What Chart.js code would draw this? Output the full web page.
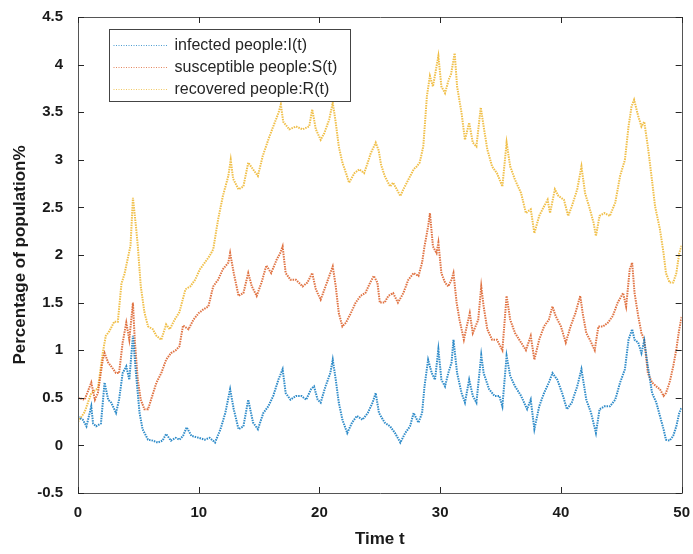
<!DOCTYPE html>
<html>
<head>
<meta charset="utf-8">
<script src="https://cdn.jsdelivr.net/npm/chart.js@4/dist/chart.umd.min.js"></script>
<style>
  body { margin: 0; background: #fff; }
  #wrap { width: 693px; height: 554px; }
</style>
</head>
<body>
<div id="wrap"><canvas id="sirChart" width="693" height="554"></canvas></div>
<script>
// Series: [time, percentage]
const infected = [
  [0,0.30],[0.4,0.27],[0.7,0.20],[1.1,0.41],[1.25,0.23],[1.5,0.20],[1.9,0.23],[2.2,0.66],[2.5,0.48],[2.75,0.45],
  [3.15,0.34],[3.4,0.48],[3.7,0.76],[4.0,0.83],[4.25,0.69],[4.55,1.15],[4.8,0.76],[5.1,0.34],[5.35,0.17],[5.8,0.06],
  [6.2,0.05],[6.6,0.03],[7.0,0.05],[7.3,0.12],[7.7,0.05],[8.1,0.08],[8.4,0.06],[8.7,0.10],[9.0,0.19],[9.4,0.10],
  [10.0,0.08],[10.5,0.06],[10.9,0.08],[11.35,0.03],[11.8,0.17],[12.2,0.34],[12.6,0.59],[12.9,0.38],[13.3,0.17],[13.7,0.20],
  [14.1,0.48],[14.5,0.24],[14.9,0.17],[15.35,0.34],[15.76,0.41],[16.17,0.52],[16.6,0.69],[16.95,0.80],[17.2,0.55],[17.6,0.48],
  [18.05,0.52],[18.5,0.52],[18.9,0.48],[19.3,0.59],[19.55,0.62],[19.85,0.48],[20.1,0.45],[20.5,0.62],[20.9,0.76],[21.1,0.90],
  [21.35,0.69],[21.6,0.45],[21.9,0.27],[22.3,0.13],[22.7,0.24],[23.1,0.31],[23.56,0.27],[24.0,0.34],[24.4,0.45],[24.66,0.55],
  [24.93,0.34],[25.4,0.24],[25.85,0.20],[26.26,0.13],[26.7,0.03],[27.1,0.13],[27.5,0.20],[27.8,0.34],[28.2,0.24],[28.5,0.34],
  [28.7,0.62],[29.0,0.90],[29.3,0.76],[29.57,0.69],[29.85,1.01],[30.1,0.69],[30.4,0.62],[30.67,0.76],[30.94,0.87],[31.1,1.11],
  [31.4,0.76],[31.77,0.55],[32.05,0.45],[32.4,0.69],[32.7,0.52],[33.0,0.45],[33.4,0.95],[33.6,0.76],[34.05,0.59],[34.5,0.52],
  [34.9,0.52],[35.15,0.41],[35.5,0.94],[35.8,0.73],[36.2,0.62],[36.7,0.52],[37.2,0.38],[37.5,0.48],[37.8,0.17],[38.2,0.41],
  [38.6,0.55],[39.0,0.66],[39.3,0.76],[39.7,0.69],[40.1,0.55],[40.5,0.38],[40.9,0.45],[41.35,0.62],[41.7,0.80],[42.1,0.48],
  [42.5,0.34],[42.9,0.13],[43.2,0.38],[43.6,0.41],[44.05,0.41],[44.5,0.48],[44.9,0.66],[45.3,0.80],[45.6,1.11],[45.9,1.22],
  [46.1,1.11],[46.4,1.08],[46.67,0.97],[46.9,1.10],[47.2,0.83],[47.55,0.55],[47.9,0.45],[48.2,0.31],[48.5,0.17],[48.7,0.06],
  [49.0,0.05],[49.3,0.10],[49.56,0.20],[49.8,0.34],[50.0,0.40]
];
const susceptible = [
  [0,0.50],[0.55,0.48],[1.1,0.66],[1.4,0.48],[1.65,0.55],[2.05,0.90],[2.2,0.97],[2.5,0.87],[2.75,0.83],[3.15,0.76],
  [3.4,0.76],[3.7,1.08],[4.0,1.29],[4.25,1.11],[4.55,1.50],[4.7,1.11],[4.95,0.69],[5.2,0.48],[5.5,0.38],[5.8,0.38],
  [6.05,0.48],[6.5,0.66],[6.9,0.76],[7.3,0.90],[7.7,0.97],[8.1,1.00],[8.4,1.04],[8.7,1.26],[9.15,1.22],[9.56,1.32],
  [10.0,1.39],[10.4,1.43],[10.8,1.46],[11.2,1.67],[11.6,1.74],[12.0,1.85],[12.45,1.92],[12.6,2.02],[12.9,1.81],[13.3,1.57],
  [13.7,1.60],[14.1,1.81],[14.4,1.67],[14.8,1.57],[15.2,1.71],[15.6,1.89],[16.0,1.81],[16.45,1.95],[16.75,2.02],[16.95,2.09],
  [17.2,1.81],[17.6,1.74],[18.05,1.74],[18.6,1.67],[19.0,1.71],[19.4,1.81],[19.7,1.64],[20.1,1.53],[20.5,1.67],[20.9,1.81],
  [21.1,1.88],[21.35,1.67],[21.6,1.39],[21.9,1.25],[22.2,1.29],[22.6,1.39],[23.0,1.50],[23.4,1.57],[23.8,1.60],[24.2,1.71],
  [24.5,1.78],[24.8,1.71],[25.0,1.50],[25.4,1.50],[25.7,1.57],[26.1,1.60],[26.5,1.50],[26.95,1.60],[27.36,1.74],[27.8,1.81],
  [28.2,1.78],[28.5,1.92],[28.7,2.09],[29.0,2.30],[29.15,2.44],[29.4,2.09],[29.7,2.02],[29.85,2.13],[30.1,1.81],[30.4,1.71],
  [30.67,1.67],[30.94,1.74],[31.1,1.81],[31.36,1.50],[31.6,1.32],[31.96,1.11],[32.2,1.25],[32.45,1.39],[32.7,1.18],[33.15,1.32],
  [33.4,1.67],[33.6,1.46],[33.9,1.22],[34.3,1.11],[34.7,1.11],[35.15,1.00],[35.5,1.57],[35.8,1.32],[36.2,1.18],[36.7,1.08],
  [37.1,1.00],[37.5,1.15],[37.8,0.90],[38.2,1.11],[38.6,1.25],[39.0,1.32],[39.3,1.46],[39.56,1.36],[40.0,1.25],[40.4,1.08],
  [40.8,1.25],[41.2,1.39],[41.6,1.57],[41.8,1.39],[42.1,1.18],[42.4,1.11],[42.8,1.00],[43.1,1.25],[43.5,1.25],[43.9,1.29],
  [44.3,1.36],[44.7,1.50],[45.15,1.60],[45.4,1.46],[45.7,1.85],[45.9,1.92],[46.1,1.60],[46.4,1.36],[46.67,1.18],[46.9,1.11],
  [47.2,0.76],[47.55,0.66],[47.9,0.62],[48.2,0.59],[48.5,0.52],[48.7,0.55],[49.0,0.66],[49.3,0.83],[49.56,1.01],[49.8,1.22],
  [50.0,1.35]
];
const recovered = [
  [0,0.25],[0.55,0.35],[1.1,0.55],[1.65,0.60],[2.05,0.97],[2.3,1.15],[2.6,1.20],[3.0,1.30],[3.3,1.30],[3.6,1.70],
  [3.85,1.80],[4.1,1.95],[4.35,2.10],[4.55,2.60],[4.8,2.30],[4.95,2.10],[5.2,1.67],[5.5,1.40],[5.8,1.25],[6.2,1.22],
  [6.5,1.15],[6.9,1.11],[7.3,1.27],[7.6,1.22],[8.0,1.32],[8.4,1.40],[8.9,1.64],[9.3,1.67],[9.7,1.74],[10.1,1.85],
  [10.5,1.92],[10.9,1.99],[11.2,2.06],[11.6,2.37],[12.0,2.62],[12.45,2.83],[12.65,3.00],[12.85,2.80],[13.3,2.69],[13.7,2.72],
  [14.1,2.97],[14.5,2.90],[14.9,2.83],[15.3,3.04],[15.76,3.21],[16.17,3.35],[16.6,3.49],[16.8,3.58],[17.0,3.40],[17.5,3.32],
  [18.05,3.35],[18.6,3.32],[19.15,3.35],[19.4,3.53],[19.7,3.32],[20.1,3.21],[20.4,3.28],[20.8,3.42],[21.1,3.60],[21.35,3.39],
  [21.6,3.14],[21.9,2.97],[22.2,2.86],[22.45,2.76],[22.9,2.86],[23.3,2.90],[23.7,2.86],[24.0,2.97],[24.25,3.07],[24.66,3.18],
  [24.9,3.10],[25.1,2.95],[25.4,2.83],[25.85,2.72],[26.1,2.76],[26.4,2.69],[26.7,2.62],[26.95,2.69],[27.36,2.79],[27.8,2.90],
  [28.05,2.93],[28.3,2.97],[28.6,3.14],[28.9,3.67],[29.15,3.88],[29.4,3.77],[29.85,4.09],[30.1,3.77],[30.4,3.70],[30.7,3.84],
  [30.9,3.90],[31.2,4.12],[31.4,3.77],[31.77,3.49],[32.05,3.21],[32.4,3.39],[32.7,3.18],[33.0,3.14],[33.36,3.55],[33.6,3.35],
  [33.9,3.11],[34.3,2.93],[34.7,2.86],[35.15,2.72],[35.5,3.18],[35.8,2.93],[36.2,2.79],[36.7,2.65],[37.1,2.44],[37.5,2.48],
  [37.8,2.23],[38.2,2.41],[38.6,2.51],[38.9,2.58],[39.1,2.44],[39.5,2.69],[39.8,2.62],[40.25,2.58],[40.6,2.41],[40.9,2.51],
  [41.35,2.69],[41.7,2.93],[42.0,2.65],[42.4,2.48],[42.7,2.34],[42.9,2.20],[43.2,2.41],[43.6,2.44],[44.05,2.41],[44.5,2.55],
  [44.9,2.83],[45.3,3.00],[45.6,3.35],[45.85,3.56],[46.06,3.63],[46.4,3.46],[46.67,3.35],[46.9,3.40],[47.2,3.14],[47.5,2.83],
  [47.8,2.51],[48.2,2.27],[48.5,2.02],[48.7,1.81],[49.0,1.71],[49.3,1.71],[49.56,1.81],[49.8,2.02],[50.0,2.10]
];

const seriesNames = ['infected people:I(t)', 'susceptible people:S(t)', 'recovered people:R(t)'];
const seriesColors = ['#0072BD', '#D95319', '#EDB120'];
const xTicks = [0, 10, 20, 30, 40, 50];
const yTicks = [-0.5, 0, 0.5, 1, 1.5, 2, 2.5, 3, 3.5, 4, 4.5];

const FONT = '"Liberation Sans", Arial, sans-serif';

// box, inward ticks and legend drawn like matlab
const matlabFrame = {
  id: 'matlabFrame',
  afterDatasetsDraw(chart) {
    const { ctx, chartArea: a, scales } = chart;
    ctx.save();
    ctx.strokeStyle = '#555';
    ctx.lineWidth = 1;
    ctx.beginPath();
    ctx.rect(Math.round(a.left) + 0.5, Math.round(a.top) + 0.5,
             Math.round(a.right - a.left), Math.round(a.bottom - a.top));
    ctx.stroke();

    ctx.strokeStyle = '#262626';
    ctx.beginPath();
    const len = 6;
    for (const v of xTicks) {
      const x = Math.round(scales.x.getPixelForValue(v)) + 0.5;
      ctx.moveTo(x, a.bottom); ctx.lineTo(x, a.bottom - len);
      ctx.moveTo(x, a.top); ctx.lineTo(x, a.top + len);
    }
    for (const v of yTicks) {
      const y = Math.round(scales.y.getPixelForValue(v)) + 0.5;
      ctx.moveTo(a.left, y); ctx.lineTo(a.left + len, y);
      ctx.moveTo(a.right, y); ctx.lineTo(a.right - len, y);
    }
    ctx.stroke();

    // legend
    const lx = Math.round(a.left + 31) + 0.5, ly = Math.round(a.top + 12) + 0.5;
    const lw = 241, lh = 72;
    ctx.fillStyle = '#fff';
    ctx.fillRect(lx, ly, lw, lh);
    ctx.strokeStyle = '#444';
    ctx.strokeRect(lx, ly, lw, lh);
    ctx.font = '16px ' + FONT;
    ctx.textBaseline = 'middle';
    seriesNames.forEach((name, i) => {
      const y = ly + 16 + i * 22;
      ctx.strokeStyle = seriesColors[i];
      ctx.globalAlpha = 0.7;
      ctx.setLineDash([1, 1.5]);
      ctx.beginPath();
      ctx.moveTo(lx + 4, y); ctx.lineTo(lx + 58, y);
      ctx.stroke();
      ctx.setLineDash([]);
      ctx.globalAlpha = 1;
      ctx.fillStyle = '#262626';
      ctx.fillText(name, lx + 65, y);
    });
    ctx.restore();
  }
};

const toPoints = arr => arr.map(([x, y]) => ({ x, y }));

new Chart(document.getElementById('sirChart'), {
  type: 'line',
  data: {
    datasets: [infected, susceptible, recovered].map((d, i) => ({
      label: seriesNames[i],
      data: toPoints(d),
      borderColor: seriesColors[i] + 'D0',
      borderWidth: 2,
      borderDash: [1.5, 1],
      pointRadius: 0,
      tension: 0,
      fill: false
    }))
  },
  options: {
    responsive: false,
    animation: false,
    layout: { padding: { left: 0, top: 17, right: 9, bottom: 0 } },
    plugins: { legend: { display: false }, tooltip: { enabled: false } },
    scales: {
      x: {
        type: 'linear', min: 0, max: 50,
        afterBuildTicks: s => { s.ticks = xTicks.map(v => ({ value: v })); },
        afterFit: s => { s.height = 61; },
        grid: { display: false }, border: { display: false },
        ticks: { color: '#1a1a1a', padding: 3, maxRotation: 0, callback: v => String(v),
                 font: { family: FONT, size: 15, weight: 'bold' } },
        title: { display: true, text: 'Time t', color: '#1a1a1a', padding: { top: 0, bottom: 4 },
                 font: { family: FONT, size: 17, weight: 'bold' } }
      },
      y: {
        type: 'linear', min: -0.5, max: 4.5,
        afterBuildTicks: s => { s.ticks = yTicks.map(v => ({ value: v })); },
        afterFit: s => { s.width = 78; },
        grid: { display: false }, border: { display: false },
        ticks: { color: '#1a1a1a', padding: 7, callback: v => String(v),
                 font: { family: FONT, size: 15, weight: 'bold' } },
        title: { display: true, text: 'Percentage of population%', color: '#1a1a1a', padding: { top: 10, bottom: 0 },
                 font: { family: FONT, size: 17, weight: 'bold' } }
      }
    }
  },
  plugins: [matlabFrame]
});
</script>
</body>
</html>
